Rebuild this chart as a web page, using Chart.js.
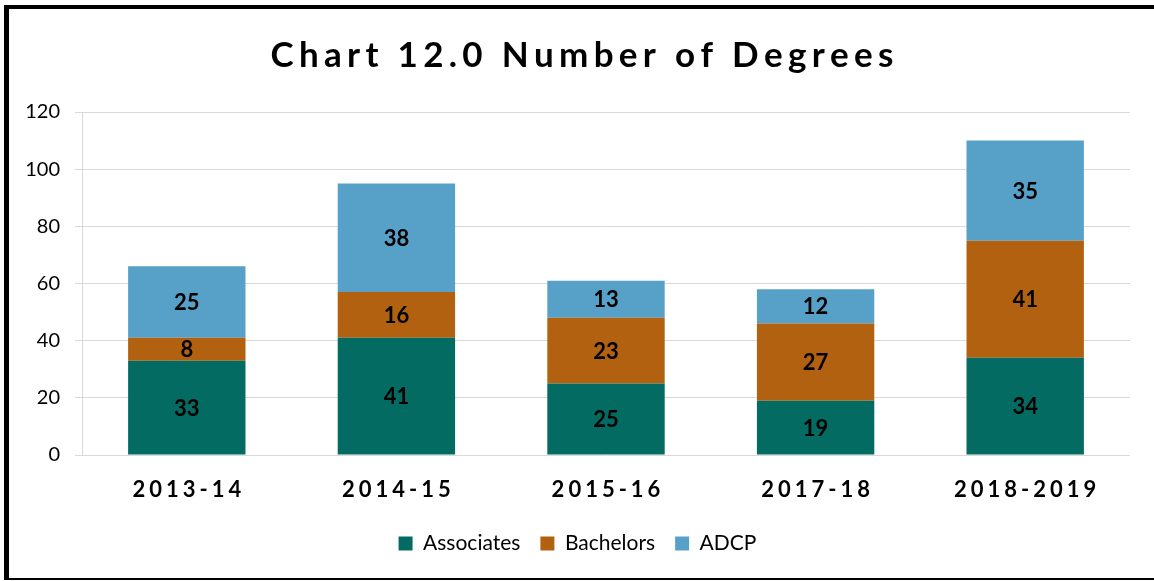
<!DOCTYPE html>
<html>
<head>
<meta charset="utf-8">
<title>Chart 12.0 Number of Degrees</title>
<script src="https://cdn.jsdelivr.net/npm/chart.js@4"></script>
<style>
    html, body { margin: 0; padding: 0; background: #fff; }
    #wrap { position: relative; width: 1154px; height: 581px; overflow: hidden; }
    #frame {
        position: absolute; left: 4px; top: 5px; width: 1200px; height: 569px;
        border-left: 5px solid #000; border-top: 4px solid #000; border-bottom: 2px solid #000;
        pointer-events: none;
    }
</style>
</head>
<body>
<div id="wrap">
    <canvas id="degreesChart"></canvas>
    <div id="frame"></div>
</div>
<script>
// Chart data
const years = ['2013-14', '2014-15', '2015-16', '2017-18', '2018-2019'];
const associates = [33, 41, 25, 19, 34];
const bachelors = [8, 16, 23, 27, 41];
const adcp = [25, 38, 13, 12, 35];
const yTicks = [0, 20, 40, 60, 80, 100, 120];
const chartTitle = 'Chart 12.0 Number of Degrees';

// Colors
const colors = {
    associates: '#036b61',
    bachelors: '#b1610f',
    adcp: '#57a1c9',
    grid: '#d9d9d9'
};

// Draw text with spacing between letters
function drawSpaced(ctx, text, cx, y, spacing) {
    const chars = text.split('');
    const widths = chars.map(c => ctx.measureText(c).width);
    const total = widths.reduce((a, b) => a + b, 0) + spacing * (chars.length - 1);
    let x = cx - total / 2;
    ctx.textAlign = 'left';
    chars.forEach((c, i) => {
        ctx.fillText(c, x, y);
        x += widths[i] + spacing;
    });
}

// Title, x labels and value labels
const textPlugin = {
    id: 'textPlugin',
    afterDraw(chart) {
        const ctx = chart.ctx;
        const area = chart.chartArea;
        ctx.save();
        ctx.fillStyle = '#000';
        ctx.textBaseline = 'alphabetic';

        // title
        ctx.font = 'bold 35px Lato';
        drawSpaced(ctx, chartTitle, 582, 67, 5.3);

        // category labels
        ctx.font = 'bold 22px Lato';
        const xScale = chart.scales.x;
        years.forEach((label, i) => {
            drawSpaced(ctx, label, xScale.getPixelForValue(i), area.bottom + 42, 4);
        });

        // value labels
        ctx.font = 'bold 22px Lato';
        ctx.textAlign = 'center';
        ctx.textBaseline = 'middle';
        chart.data.datasets.forEach((ds, d) => {
            const meta = chart.getDatasetMeta(d);
            meta.data.forEach((bar, i) => {
                const cy = (bar.y + bar.base) / 2;
                ctx.fillText(String(ds.data[i]), bar.x, cy + 1);
            });
        });
        ctx.restore();
    }
};

const ctx = document.getElementById('degreesChart').getContext('2d');
const degreesChart = new Chart(ctx, {
    type: 'bar',
    data: {
        labels: years,
        datasets: [{
            label: 'Associates',
            data: associates,
            backgroundColor: colors.associates
        }, {
            label: 'Bachelors',
            data: bachelors,
            backgroundColor: colors.bachelors
        }, {
            label: 'ADCP',
            data: adcp,
            backgroundColor: colors.adcp
        }]
    },
    options: {
        responsive: true,
        maintainAspectRatio: false,
        animation: false,
        categoryPercentage: 1,
        barPercentage: 0.56,
        layout: {
            padding: { left: 25, right: 24, top: 112, bottom: 17 }
        },
        plugins: {
            title: { display: false },
            tooltip: { enabled: false },
            legend: {
                position: 'bottom',
                labels: {
                    boxWidth: 14,
                    boxHeight: 14,
                    padding: 20,
                    color: '#000',
                    font: { family: 'Lato', size: 21 }
                }
            }
        },
        scales: {
            x: {
                stacked: true,
                grid: { display: false },
                border: { display: false },
                ticks: {
                    color: 'rgba(0,0,0,0)',
                    font: { family: 'Lato', size: 22, weight: 'bold' }
                },
                afterFit: axis => { axis.height = 58; }
            },
            y: {
                stacked: true,
                min: yTicks[0],
                max: yTicks[yTicks.length - 1],
                afterBuildTicks: axis => {
                    axis.ticks = yTicks.map(v => ({ value: v }));
                },
                grid: { color: colors.grid, lineWidth: 1, tickLength: 7 },
                border: { display: true, color: colors.grid, width: 1 },
                ticks: {
                    color: '#000',
                    padding: 15,
                    font: { family: 'Lato', size: 20 }
                },
                afterFit: axis => { axis.width = 57; }
            }
        }
    },
    plugins: [textPlugin]
});
</script>
</body>
</html>
